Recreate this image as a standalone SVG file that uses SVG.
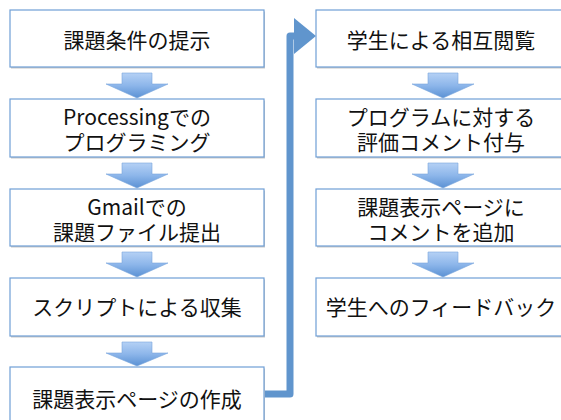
<svg xmlns="http://www.w3.org/2000/svg" width="561" height="420" viewBox="0 0 561 420">
<defs>
<linearGradient id="ag" x1="0" y1="0" x2="0" y2="1">
<stop offset="0" stop-color="#b5d1f5"/>
<stop offset="0.5" stop-color="#8db6ea"/>
<stop offset="1" stop-color="#5a91d4"/>
</linearGradient>
<style>
.box{fill:#ffffff;stroke:#6f9fd6;stroke-width:1.2}
.sh{fill:#c8c8c8}
.t{font-family:"Noto Sans CJK JP","Noto Sans",sans-serif;font-size:21px;fill:#111;text-anchor:middle}
.ar{fill:url(#ag);stroke:#7aa6dc;stroke-width:0.6}
.conn{fill:none;stroke:#6095cd;stroke-width:7;stroke-linejoin:round}
</style>
</defs>
<rect width="561" height="420" fill="#ffffff"/>

<g id="connectors">
<path class="ar" d="M122,73 H152 V84 H168 L137,98 L106,84 H122 Z"/>
<path class="ar" d="M122,163 H152 V174 H168 L137,188 L106,174 H122 Z"/>
<path class="ar" d="M122,252 H152 V263 H168 L137,277 L106,263 H122 Z"/>
<path class="ar" d="M122,342 H152 V353 H168 L137,366 L106,353 H122 Z"/>
<path class="ar" d="M428,73 H458 V84 H474 L443,98 L412,84 H428 Z"/>
<path class="ar" d="M428,163 H458 V174 H474 L443,188 L412,174 H428 Z"/>
<path class="ar" d="M428,252 H458 V263 H474 L443,277 L412,263 H428 Z"/>
<path class="conn" d="M264,394 H290 V36 H297"/>
<polygon points="294,18 316,36 294,54" fill="#6095cd"/>
</g>

<g id="n1"><rect class="sh" x="11" y="11.5" width="254" height="57"/><rect class="box" x="10" y="10" width="254" height="57"/><text class="t" x="137" y="48">課題条件の提示</text></g>
<g id="n2"><rect class="sh" x="11" y="100.5" width="254" height="58"/><rect class="box" x="10" y="99" width="254" height="58"/><text class="t" x="137" y="125">Processingでの</text><text class="t" x="137" y="150">プログラミング</text></g>
<g id="n3"><rect class="sh" x="11" y="190.5" width="254" height="57"/><rect class="box" x="10" y="189" width="254" height="57"/><text class="t" x="137" y="215">Gmailでの</text><text class="t" x="137" y="240">課題ファイル提出</text></g>
<g id="n4"><rect class="sh" x="11" y="279.5" width="254" height="58"/><rect class="box" x="10" y="278" width="254" height="58"/><text class="t" x="137" y="315">スクリプトによる収集</text></g>
<g id="n5"><rect class="sh" x="11" y="368.5" width="254" height="60"/><rect class="box" x="10" y="367" width="254" height="60"/><text class="t" x="137" y="407">課題表示ページの作成</text></g>

<g id="n6"><rect class="sh" x="317" y="11.5" width="254" height="57"/><rect class="box" x="316" y="10" width="254" height="57"/><text class="t" x="441" y="48">学生による相互閲覧</text></g>
<g id="n7"><rect class="sh" x="317" y="100.5" width="254" height="58"/><rect class="box" x="316" y="99" width="254" height="58"/><text class="t" x="441" y="125">プログラムに対する</text><text class="t" x="441" y="150">評価コメント付与</text></g>
<g id="n8"><rect class="sh" x="317" y="190.5" width="254" height="57"/><rect class="box" x="316" y="189" width="254" height="57"/><text class="t" x="441" y="215">課題表示ページに</text><text class="t" x="441" y="240">コメントを追加</text></g>
<g id="n9"><rect class="sh" x="317" y="279.5" width="254" height="58"/><rect class="box" x="316" y="278" width="254" height="58"/><text class="t" x="441" y="315">学生へのフィードバック</text></g>
</svg>
